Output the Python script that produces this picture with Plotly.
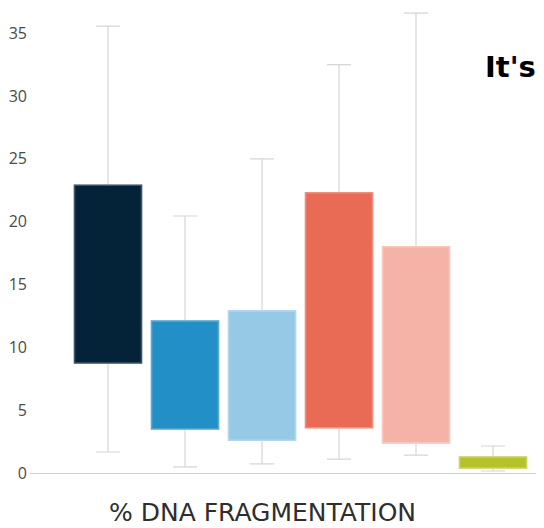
import plotly.graph_objects as go

categories = ["A", "B", "C", "D", "E", "F"]
q1 = [8.75, 3.5, 2.6, 3.6, 2.4, 0.4]
q3 = [22.9, 12.1, 12.9, 22.3, 18.0, 1.27]
lower = [1.67, 0.48, 0.72, 1.1, 1.43, 0.16]
upper = [35.55, 20.45, 25.0, 32.5, 36.6, 2.15]
colors = ["#042238", "#2290c6", "#95c9e6", "#e96a55", "#f5b3a8", "#b5c22a"]
edge_colors = ["#3d5566", "#5aaad3", "#b0d7ec", "#ef8f7f", "#f8c8bf", "#c9d35f"]
y_ticks = [0, 5, 10, 15, 20, 25, 30, 35]

fig = go.Figure()
for i, c in enumerate(categories):
    fig.add_trace(go.Box(
        x=[i], q1=[q1[i]], median=[q1[i]], q3=[q3[i]],
        lowerfence=[lower[i]], upperfence=[upper[i]],
        fillcolor=colors[i], line=dict(color="#d6d6d6", width=1.2),
        width=0.87, whiskerwidth=0.36, boxpoints=False,
        name=c, showlegend=False, hoverinfo="skip",
    ))
for i, c in enumerate(categories):
    fig.add_trace(go.Bar(
        x=[i], y=[q3[i] - q1[i]], base=[q1[i]], width=0.87,
        marker=dict(color=colors[i], line=dict(width=1.6, color=edge_colors[i])),
        showlegend=False, hoverinfo="skip", xaxis="x2", yaxis="y2",
    ))

xr = [-1.013, 5.766]
yr = [0, 37.0]
# page body has an 8px margin: figure pixel = window pixel - 8
fig.update_layout(
    width=544, height=528,
    margin=dict(l=22, r=0, t=0, b=63),
    plot_bgcolor="white", paper_bgcolor="white",
    barmode="overlay", boxmode="overlay",
    font=dict(family="Open Sans", color="#444"),
    xaxis=dict(range=xr, showticklabels=False, ticks="",
               showgrid=False, zeroline=False, showline=True,
               linecolor="#cfcfcf", linewidth=1),
    yaxis=dict(range=yr, tickvals=y_ticks, showgrid=False,
               zeroline=False, showline=False, ticks="",
               tickfont=dict(size=16, color="#4a4a4a"), ticklabelstandoff=2),
    xaxis2=dict(range=xr, overlaying="x", visible=False),
    yaxis2=dict(range=yr, overlaying="y", visible=False),
    annotations=[
        dict(text="% DNA FRAGMENTATION", xref="paper", yref="paper",
             x=(254 - 22) / 522, y=-(504 - 465) / 465, xanchor="center",
             yanchor="middle", showarrow=False,
             font=dict(size=25, color="#2e2e2e", family="DejaVu Sans")),
        dict(text="<b>It's</b>", xref="paper", yref="paper",
             x=(475 - 22) / 522, y=(465 - 59) / 465, xanchor="left",
             yanchor="middle", showarrow=False,
             font=dict(size=29, color="#000", family="DejaVu Sans")),
    ],
)

fig.write_html("out.html")
